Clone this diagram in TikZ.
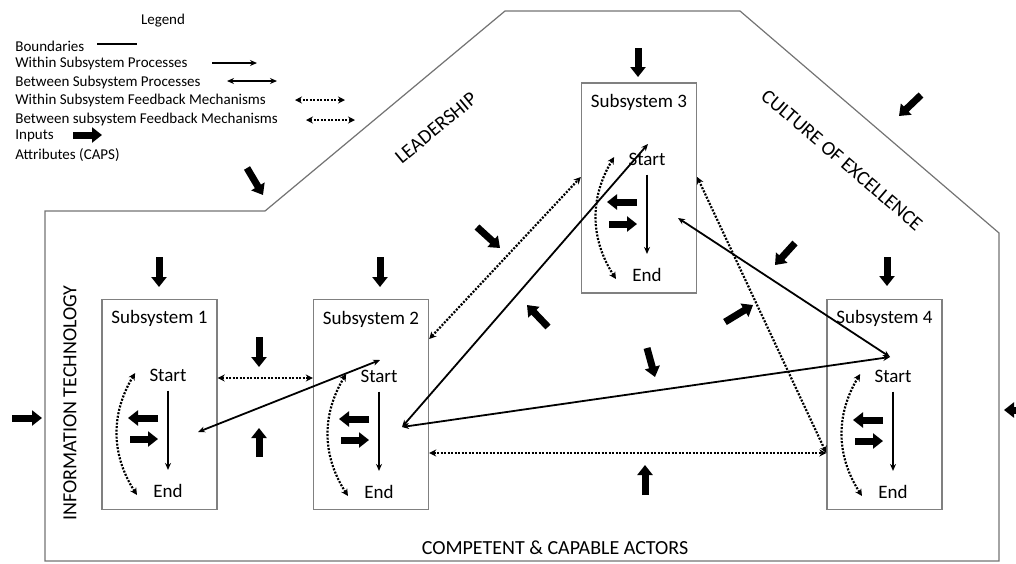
\documentclass[tikz,border=0pt]{standalone}
\usepackage{fontspec}
\setmainfont{Carlito}
\usetikzlibrary{arrows.meta}

\begin{document}
\begin{tikzpicture}[x=0.5pt,y=-0.5pt,
  boundary/.style={draw=black!55,line width=0.6pt},
  subsys/.style={draw=black!50,line width=0.7pt,minimum width=57.5pt,minimum height=105pt,inner sep=0pt},
  txt/.style={inner sep=1pt,font=\fontsize{9.5}{11}\selectfont},
  attr/.style={inner sep=0pt,font=\fontsize{10}{12}\selectfont},
  leg/.style={anchor=west,inner sep=0pt,font=\fontsize{7.5}{9}\selectfont},
  procline/.style={line width=0.75pt,-{Stealth[length=3.5pt,width=3pt]},shorten <=3.5pt,shorten >=6pt},
  linkline/.style={line width=0.9pt,{Stealth[length=3.5pt,width=3pt]}-{Stealth[length=3.5pt,width=3pt]}},
  fbline/.style={line width=1.1pt,dash pattern=on 1pt off 0.75pt,{Stealth[length=3.5pt,width=3.5pt]}-{Stealth[length=3.5pt,width=3.5pt]}},
  inputarrow/.style={line width=3.5pt,-{Triangle[length=5pt,width=7.5pt]}}]
\useasboundingbox (0,0) rectangle (1016,563);

\draw[boundary] (45,211) -- (265,211) -- (505,11) -- (740,11) -- (999,233) -- (999,561) -- (45,561) -- cycle;

\node[leg,anchor=center] (legend) at (163,21) {Legend};
\node[leg] (lg1) at (15,46) {Boundaries};
\node[leg] (lg2) at (15,63) {Within Subsystem Processes};
\node[leg] (lg3) at (15,82) {Between Subsystem Processes};
\node[leg] (lg4) at (15,100) {Within Subsystem Feedback Mechanisms};
\node[leg] (lg5) at (15,119) {Between subsystem Feedback Mechanisms};
\node[leg] (lg6) at (15,136) {Inputs};
\node[leg] (lg7) at (15,155) {Attributes (CAPS)};
\draw[line width=0.9pt] (97,44) -- (137,44);
\draw[procline,shorten <=0pt,shorten >=0pt] (212,63) -- (257,63);
\draw[linkline] (227,81) -- (277,81);
\draw[fbline] (295,100) -- (345,100);
\draw[fbline] (306,120) -- (355,120);
\draw[inputarrow] (73,135) -- (102,135);

\node[attr,rotate=39.7] (lead) at (436,128) {LEADERSHIP};
\node[attr,rotate=-40.6] (cult) at (842,160) {CULTURE OF EXCELLENCE};
\node[attr,rotate=90] (info) at (70,403) {INFORMATION TECHNOLOGY};
\node[attr] (actors) at (555,548) {COMPETENT \& CAPABLE ACTORS};

\node[subsys] (s1) at (159.5,404.5) {};
\node[subsys] (s2) at (371,404.5) {};
\node[subsys] (s3) at (639,188) {};
\node[subsys] (s4) at (884.5,404.5) {};
\node[txt] (t1) at (159.5,318) {Subsystem 1};
\node[txt] (t2) at (371,319) {Subsystem 2};
\node[txt] (t3) at (639,102) {Subsystem 3};
\node[txt] (t4) at (884.5,318) {Subsystem 4};
\node[txt] (st1) at (168,375) {Start};
\node[txt] (st2) at (379,376) {Start};
\node[txt] (st3) at (647,159) {Start};
\node[txt] (st4) at (893,376) {Start};
\node[txt] (en1) at (168,491) {End};
\node[txt] (en2) at (379,492) {End};
\node[txt] (en3) at (647,275) {End};
\node[txt] (en4) at (893,492) {End};

\draw[procline] (st1) -- (en1);
\draw[procline] (st2) -- (en2);
\draw[procline] (st3) -- (en3);
\draw[procline] (st4) -- (en4);
\draw[fbline] ([xshift=-6pt,yshift=1pt]st1.west) to[bend right=32] ([xshift=-7pt,yshift=-2pt]en1.west);
\draw[fbline] ([xshift=-6pt,yshift=1pt]st2.west) to[bend right=32] ([xshift=-7pt,yshift=-2pt]en2.west);
\draw[fbline] ([xshift=-6pt,yshift=1pt]st3.west) to[bend right=32] ([xshift=-7pt,yshift=-2pt]en3.west);
\draw[fbline] ([xshift=-6pt,yshift=1pt]st4.west) to[bend right=32] ([xshift=-7pt,yshift=-2pt]en4.west);

\draw[inputarrow] (158,418) -- (128,418);
\draw[inputarrow] (130,439) -- (158,439);
\draw[inputarrow] (369,419) -- (339,419);
\draw[inputarrow] (341,440) -- (369,440);
\draw[inputarrow] (637,202) -- (607,202);
\draw[inputarrow] (609,224) -- (637,224);
\draw[inputarrow] (883,420) -- (853,420);
\draw[inputarrow] (855,441) -- (883,441);

\coordinate (p1) at (198,432);
\coordinate (p2top) at (380,360);
\coordinate (p2side) at (402,427);
\coordinate (p3top) at (648,144);
\coordinate (p3side) at (678,218);
\coordinate (p4top) at (890,357);
\draw[linkline] (p1) -- (p2top);
\draw[linkline] (p2side) -- (p3top);
\draw[linkline] (p2side) -- (p4top);
\draw[linkline] (p4top) -- (p3side);

\draw[fbline] ([yshift=13.25pt]s1.east) -- ([yshift=13.25pt]s2.west);
\draw[fbline] ([yshift=32.75pt]s2.east) -- ([yshift=5.5pt]s3.west);
\draw[fbline] ([yshift=5.5pt]s3.east) -- ([yshift=-24.25pt]s4.west);
\draw[fbline] ([yshift=-24.25pt]s2.east) -- ([yshift=-24.25pt]s4.west);

\draw[inputarrow] (247,168) -- (263,195);
\draw[inputarrow] (638,48) -- (638,77);
\draw[inputarrow] (921,95) -- (899,116);
\draw[inputarrow] (795,243) -- (775,265);
\draw[inputarrow] (887,257) -- (887,286);
\draw[inputarrow] (159,257) -- (159,287);
\draw[inputarrow] (380,257) -- (380,287);
\draw[inputarrow] (259,337) -- (259,367);
\draw[inputarrow] (259,457) -- (259,428);
\draw[inputarrow] (12,418) -- (42,418);
\draw[inputarrow] (1030,410) -- (1004,410);
\draw[inputarrow] (477,227) -- (500,248);
\draw[inputarrow] (548,327) -- (527,305);
\draw[inputarrow] (725,322) -- (753,305);
\draw[inputarrow] (647,348) -- (655,377);
\draw[inputarrow] (645,495) -- (645,465);
\end{tikzpicture}
\end{document}
